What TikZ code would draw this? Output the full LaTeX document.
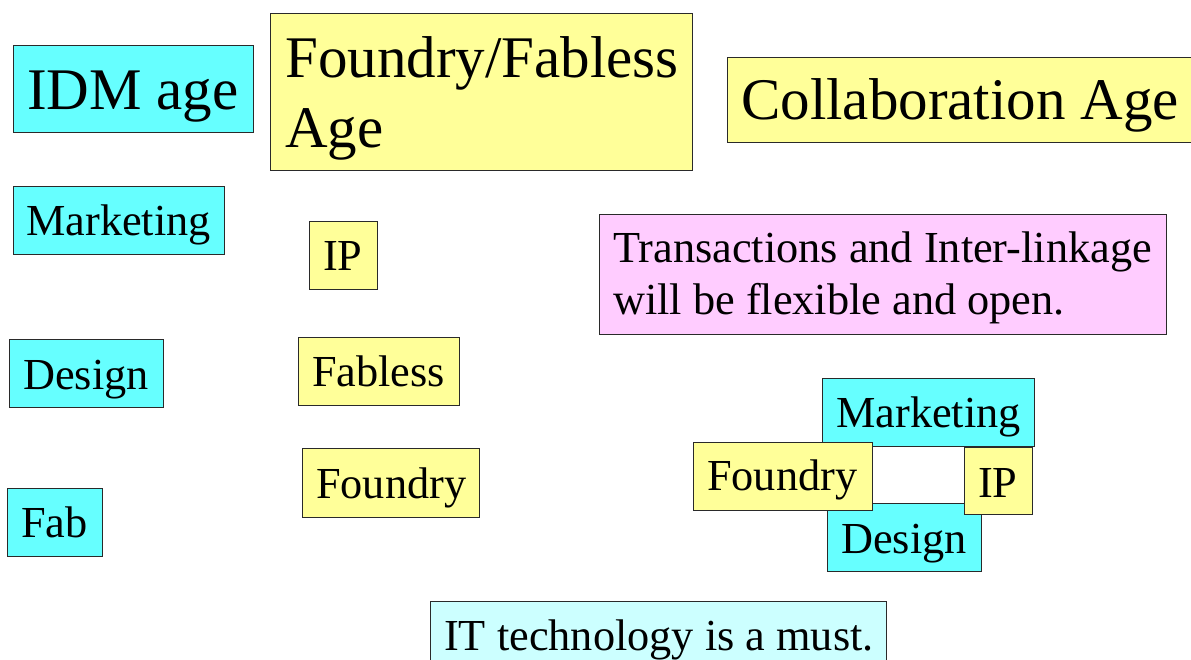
\documentclass[tikz,border=0pt]{standalone}
\usepackage{fontspec}
\setmainfont{Liberation Serif}
\definecolor{cyanbox}{HTML}{66FFFF}
\definecolor{yellowbox}{HTML}{FFFF99}
\definecolor{pinkbox}{HTML}{FFCCFF}
\definecolor{paleblue}{HTML}{CCFFFF}
\definecolor{edge}{HTML}{2A2A2A}
\tikzset{
  box/.style={draw=edge, line width=1.4pt, anchor=north west, inner sep=0pt, rectangle},
  bigtxt/.style={anchor=base west, inner sep=0pt, font=\fontsize{59}{70}\selectfont},
  smalltxt/.style={anchor=base west, inner sep=0pt, font=\fontsize{44.3}{52}\selectfont},
}
\begin{document}
\begin{tikzpicture}[x=1pt,y=-1pt]
\useasboundingbox (0,0) rectangle (1191,660);
% left column: IDM age
\node[box, fill=cyanbox, minimum width=240pt, minimum height=87pt] (idm) at (13,45) {};
\node[bigtxt] (idmt) at (27,110) {IDM age};
\node[box, fill=cyanbox, minimum width=211pt, minimum height=68pt] (mk1) at (13,186) {};
\node[smalltxt] (mk1t) at (26,236) {Marketing};
\node[box, fill=cyanbox, minimum width=154pt, minimum height=68pt] (ds1) at (9,339) {};
\node[smalltxt] (ds1t) at (23,389) {Design};
\node[box, fill=cyanbox, minimum width=95pt, minimum height=68pt] (fab) at (7,488) {};
\node[smalltxt] (fabt) at (21,537) {Fab};
% middle column: Foundry/Fabless age
\node[box, fill=yellowbox, minimum width=422pt, minimum height=157pt] (ffa) at (270,13) {};
\node[bigtxt] (ffat1) at (285,78) {Foundry/Fabless};
\node[bigtxt] (ffat2) at (285,148) {Age};
\node[box, fill=yellowbox, minimum width=68pt, minimum height=68pt] (ip1) at (309,221) {};
\node[smalltxt] (ip1t) at (323,271) {IP};
\node[box, fill=yellowbox, minimum width=161pt, minimum height=68pt] (fb1) at (298,337) {};
\node[smalltxt] (fb1t) at (312,386) {Fabless};
\node[box, fill=yellowbox, minimum width=177pt, minimum height=69pt] (fo1) at (302,448) {};
\node[smalltxt] (fo1t) at (316,498) {Foundry};
% right column: Collaboration age
\node[box, fill=yellowbox, minimum width=473pt, minimum height=85pt] (col) at (727,57) {};
\node[bigtxt] (colt) at (741,120) {Collaboration Age};
\node[box, fill=pinkbox, minimum width=567pt, minimum height=120pt] (tra) at (599,214) {};
\node[smalltxt] (trat1) at (613,263) {Transactions and Inter-linkage};
\node[smalltxt] (trat2) at (613,315) {will be flexible and open.};
\node[box, fill=cyanbox, minimum width=212pt, minimum height=68pt] (mk2) at (822,378) {};
\node[smalltxt] (mk2t) at (836,427) {Marketing};
\node[box, fill=cyanbox, minimum width=154pt, minimum height=68pt] (ds2) at (827,503) {};
\node[smalltxt] (ds2t) at (841,553) {Design};
\node[box, fill=yellowbox, minimum width=179pt, minimum height=68pt] (fo2) at (693,442) {};
\node[smalltxt] (fo2t) at (707,490) {Foundry};
\node[box, fill=yellowbox, minimum width=68pt, minimum height=67pt] (ip2) at (964,447) {};
\node[smalltxt] (ip2t) at (978,497) {IP};
% bottom
\node[box, fill=paleblue, minimum width=456pt, minimum height=69pt] (it) at (430,601) {};
\node[smalltxt] (itt) at (444,650) {IT technology is a must.};
\end{tikzpicture}
\end{document}
